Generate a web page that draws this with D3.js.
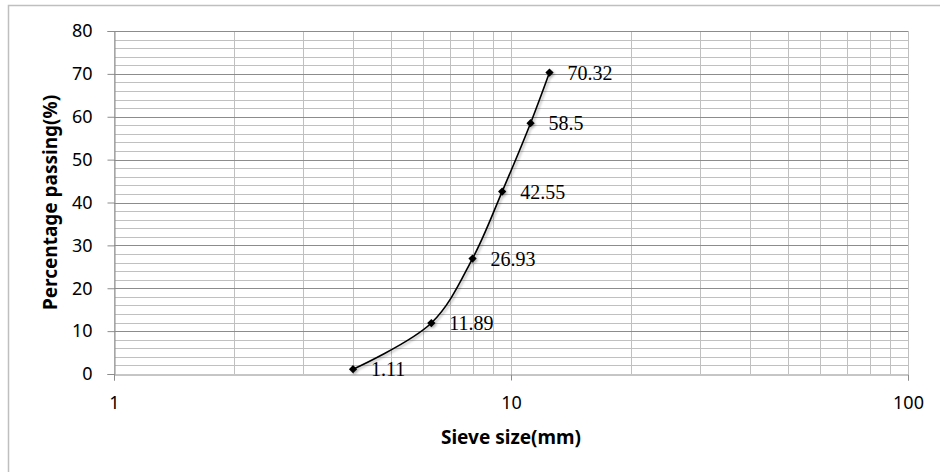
<!DOCTYPE html>
<html>
<head>
<meta charset="utf-8">
<script src="https://cdn.jsdelivr.net/npm/d3@7"></script>
<style>
  body { margin: 0; background: #fff; }
  svg { display: block; }
</style>
</head>
<body>
<script>
var width = 940,
    height = 472;

// sieve sizes (mm) and percentage passing
var sieveSizes = [4, 6.3, 8, 9.5, 11.2, 12.5];
var passing = [1.11, 11.89, 26.93, 42.55, 58.5, 70.32];
var xTickValues = [1, 10, 100];
var yTickValues = [0, 10, 20, 30, 40, 50, 60, 70, 80];

var margin = { top: 31, right: 32, bottom: 98, left: 114 };

var svg = d3.select('body').append('svg')
  .attr('width', width)
  .attr('height', height);

// soft shadow like the spreadsheet line
svg.append('defs').append('filter')
  .attr('id', 'shadow')
  .attr('x', '-10%').attr('y', '-10%')
  .attr('width', '130%').attr('height', '130%')
  .append('feDropShadow')
  .attr('dx', 1.5).attr('dy', 1.5)
  .attr('stdDeviation', 1.2)
  .attr('flood-color', '#000')
  .attr('flood-opacity', 0.3);

// outer chart border (only top and left visible in the picture)
svg.append('rect')
  .attr('x', 8.5).attr('y', 5.5)
  .attr('width', width).attr('height', height)
  .attr('fill', 'none')
  .attr('stroke', '#bfbfbf')
  .attr('stroke-width', 1.5);

var x = d3.scaleLog()
  .domain([1, 100])
  .range([margin.left, width - margin.right]);

var y = d3.scaleLinear()
  .domain([0, 80])
  .range([height - margin.bottom, margin.top]);

var g = svg.append('g');

// vertical log grid
var vLines = [];
for (var dec = 1; dec < 100; dec *= 10) {
  for (var k = 1; k <= 10; k++) vLines.push(dec * k);
}
g.selectAll('line.vgrid')
  .data(vLines)
  .enter()
  .append('line')
  .attr('class', 'vgrid')
  .attr('x1', function(d) { return Math.round(x(d)) + 0.5; })
  .attr('x2', function(d) { return Math.round(x(d)) + 0.5; })
  .attr('y1', y(80))
  .attr('y2', y(0))
  .attr('stroke', '#c0c0c0')
  .attr('stroke-width', 1);

// horizontal grid, minor every 2, major every 10
var hLines = d3.range(2, 81, 2);
g.selectAll('line.hgrid')
  .data(hLines)
  .enter()
  .append('line')
  .attr('class', 'hgrid')
  .attr('x1', x(1))
  .attr('x2', x(100))
  .attr('y1', function(d) { return Math.round(y(d)) + 0.5; })
  .attr('y2', function(d) { return Math.round(y(d)) + 0.5; })
  .attr('stroke', function(d) { return d % 10 === 0 ? '#8c8c8c' : '#c0c0c0'; })
  .attr('stroke-width', 1);

// y axis
var yAxis = svg.append('g')
  .attr('transform', 'translate(' + (Math.round(x(1)) + 0.5) + ',0)')
  .call(d3.axisLeft(y).tickValues(yTickValues).tickSize(7).tickPadding(15).tickFormat(d3.format('d')));

// x axis
var xAxis = svg.append('g')
  .attr('transform', 'translate(0,' + (Math.round(y(0)) + 0.5) + ')')
  .call(d3.axisBottom(x).tickValues(xTickValues).tickSize(6).tickPadding(16).tickFormat(d3.format('d')));

[yAxis, xAxis].forEach(function(a) {
  a.select('.domain').attr('stroke', '#8c8c8c');
  a.selectAll('.tick line').attr('stroke', '#8c8c8c');
  a.selectAll('.tick text')
    .attr('font-family', '"Noto Sans", sans-serif')
    .attr('font-size', '18px')
    .attr('fill', '#000');
});

// line
var line = d3.line()
  .x(function(d, i) { return x(sieveSizes[i]); })
  .y(function(d) { return y(d); })
  .curve(d3.curveCatmullRom.alpha(0.5));

var series = svg.append('g').attr('filter', 'url(#shadow)');

series.append('path')
  .datum(passing)
  .attr('d', line)
  .attr('fill', 'none')
  .attr('stroke', '#000')
  .attr('stroke-width', 1.6);

series.selectAll('path.marker')
  .data(passing)
  .enter()
  .append('path')
  .attr('class', 'marker')
  .attr('d', d3.symbol().type(d3.symbolSquare).size(34))
  .attr('transform', function(d, i) { return 'translate(' + x(sieveSizes[i]) + ',' + y(d) + ') rotate(45)'; })
  .attr('fill', '#000');

svg.selectAll('text.label')
  .data(passing)
  .enter()
  .append('text')
  .attr('class', 'label')
  .attr('x', function(d, i) { return x(sieveSizes[i]) + 18; })
  .attr('y', function(d) { return y(d) + 7; })
  .attr('font-family', '"Liberation Serif", "Times New Roman", serif')
  .attr('font-size', '20px')
  .attr('fill', '#000')
  .text(function(d) { return d; });

// axis titles
svg.append('text')
  .attr('x', x(10))
  .attr('y', 444)
  .attr('text-anchor', 'middle')
  .attr('font-family', '"Noto Sans", sans-serif')
  .attr('font-weight', 'bold')
  .attr('font-size', '19px')
  .text('Sieve size(mm)');

svg.append('text')
  .attr('transform', 'translate(57,' + ((y(0) + y(80)) / 2) + ') rotate(-90)')
  .attr('text-anchor', 'middle')
  .attr('font-family', '"Noto Sans", sans-serif')
  .attr('font-weight', 'bold')
  .attr('font-size', '19px')
  .text('Percentage passing(%)');
</script>
</body>
</html>
